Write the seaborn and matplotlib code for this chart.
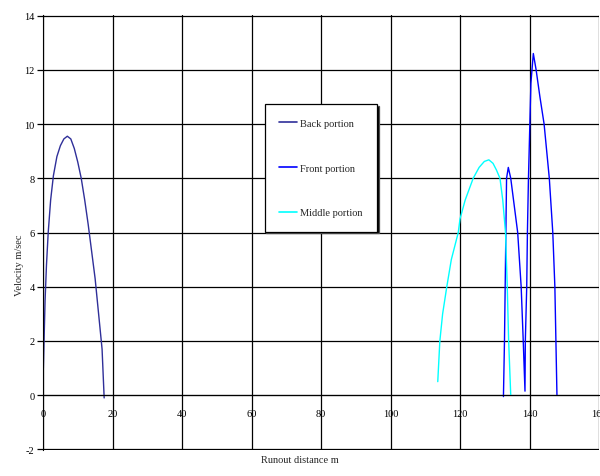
import numpy as np
import pandas as pd
import seaborn as sns
import matplotlib.pyplot as plt

# values
back_x = [0.1, 0.3, 0.6, 1.0, 1.5, 2.2, 3.0, 4.0, 5.0, 6.0, 7.0, 8.0, 9.0,
          10.0, 11.0, 12.0, 13.0, 14.0, 15.0, 16.0, 17.0, 17.6]
back_v = [1.0, 2.0, 3.5, 4.8, 6.0, 7.2, 8.1, 8.8, 9.2, 9.45, 9.55, 9.45, 9.1,
          8.6, 8.0, 7.2, 6.3, 5.3, 4.3, 3.0, 1.7, -0.1]

front_x = [132.5, 132.8, 133.0, 133.2, 133.4, 133.9, 134.6, 135.6, 136.6,
           137.6, 138.2, 138.7, 138.8, 139.2, 139.4, 139.7, 140.1, 140.4,
           141.1, 141.9, 143.0, 144.2, 145.7, 146.7, 147.3, 147.6, 147.9]
front_v = [-0.05, 2.0, 4.0, 6.0, 8.0, 8.4, 8.0, 7.0, 6.0, 4.0, 2.0, 0.15, 2.0,
           4.0, 6.0, 8.0, 10.0, 11.5, 12.6, 12.0, 11.0, 10.0, 8.0, 6.0, 4.0,
           2.0, 0.0]

middle_x = [113.6, 114.2, 115.0, 116.2, 117.5, 119.5, 120.0, 121.5, 123.8,
            125.5, 127.0, 128.3, 129.5, 130.5, 131.5, 132.3, 133.1, 133.6,
            134.0, 134.6]
middle_v = [0.5, 2.0, 3.0, 4.0, 5.0, 6.0, 6.5, 7.2, 8.0, 8.4, 8.62, 8.68,
            8.55, 8.3, 8.0, 7.2, 6.0, 4.0, 2.0, 0.0]

portions = ["Back portion", "Front portion", "Middle portion"]
colors = ["#2f2f99", "#0000ff", "#00ffff"]

df = pd.concat([
    pd.DataFrame({"dist": back_x, "vel": back_v, "portion": portions[0]}),
    pd.DataFrame({"dist": front_x, "vel": front_v, "portion": portions[1]}),
    pd.DataFrame({"dist": middle_x, "vel": middle_v, "portion": portions[2]}),
])

sns.set_style("white")
plt.rcParams["font.family"] = ["Liberation Serif", "DejaVu Serif"]
plt.rcParams["font.size"] = 7.5
plt.rcParams["axes.unicode_minus"] = False

fig = plt.figure(figsize=(6.0, 4.77), dpi=100)
ax = fig.add_axes([43 / 600, 1 - 451 / 477, 556 / 600, 435 / 477])

sns.lineplot(data=df, x="dist", y="vel", hue="portion", hue_order=portions,
             palette=dict(zip(portions, colors)), sort=False, estimator=None,
             linewidth=1.0, ax=ax)

ax.set_xlim(0, 160)
ax.set_ylim(-2.02, 14.02)
ax.set_xticks(np.arange(0, 161, 20))
ax.set_yticks(np.arange(-2, 15, 2))
ax.grid(True, color="black", linewidth=0.9)
ax.set_axisbelow(True)

for s in ["top", "right"]:
    ax.spines[s].set_visible(False)
ax.spines["bottom"].set_position(("data", 0))
ax.spines["left"].set_color("black")
ax.spines["bottom"].set_color("black")
ax.tick_params(axis="x", length=0, pad=10, colors="black")
ax.tick_params(axis="y", length=4, width=0.9, direction="out", pad=2,
               colors="black", left=True)

ax.set_xlabel("Runout distance m")
ax.set_ylabel("Velocity m/sec")
ax.xaxis.set_label_coords((300 - 43) / 556, -0.012)
ax.yaxis.set_label_coords(-0.034, (451 - 265) / 435)

leg = ax.legend(loc="upper left", bbox_to_anchor=(0.399, 0.795),
                frameon=True, fancybox=False, labelspacing=3.4,
                handlelength=1.7, handletextpad=0.3, borderpad=1.4,
                borderaxespad=0, fontsize=7.5,
                shadow={"ox": 1.0, "oy": -1.0, "facecolor": "black",
                        "alpha": 1})
leg.get_frame().set_edgecolor("black")
leg.get_frame().set_linewidth(0.9)
leg.get_frame().set_alpha(1)
for line in leg.get_lines():
    line.set_linewidth(1.2)

fig.savefig("out.png", dpi=100)
